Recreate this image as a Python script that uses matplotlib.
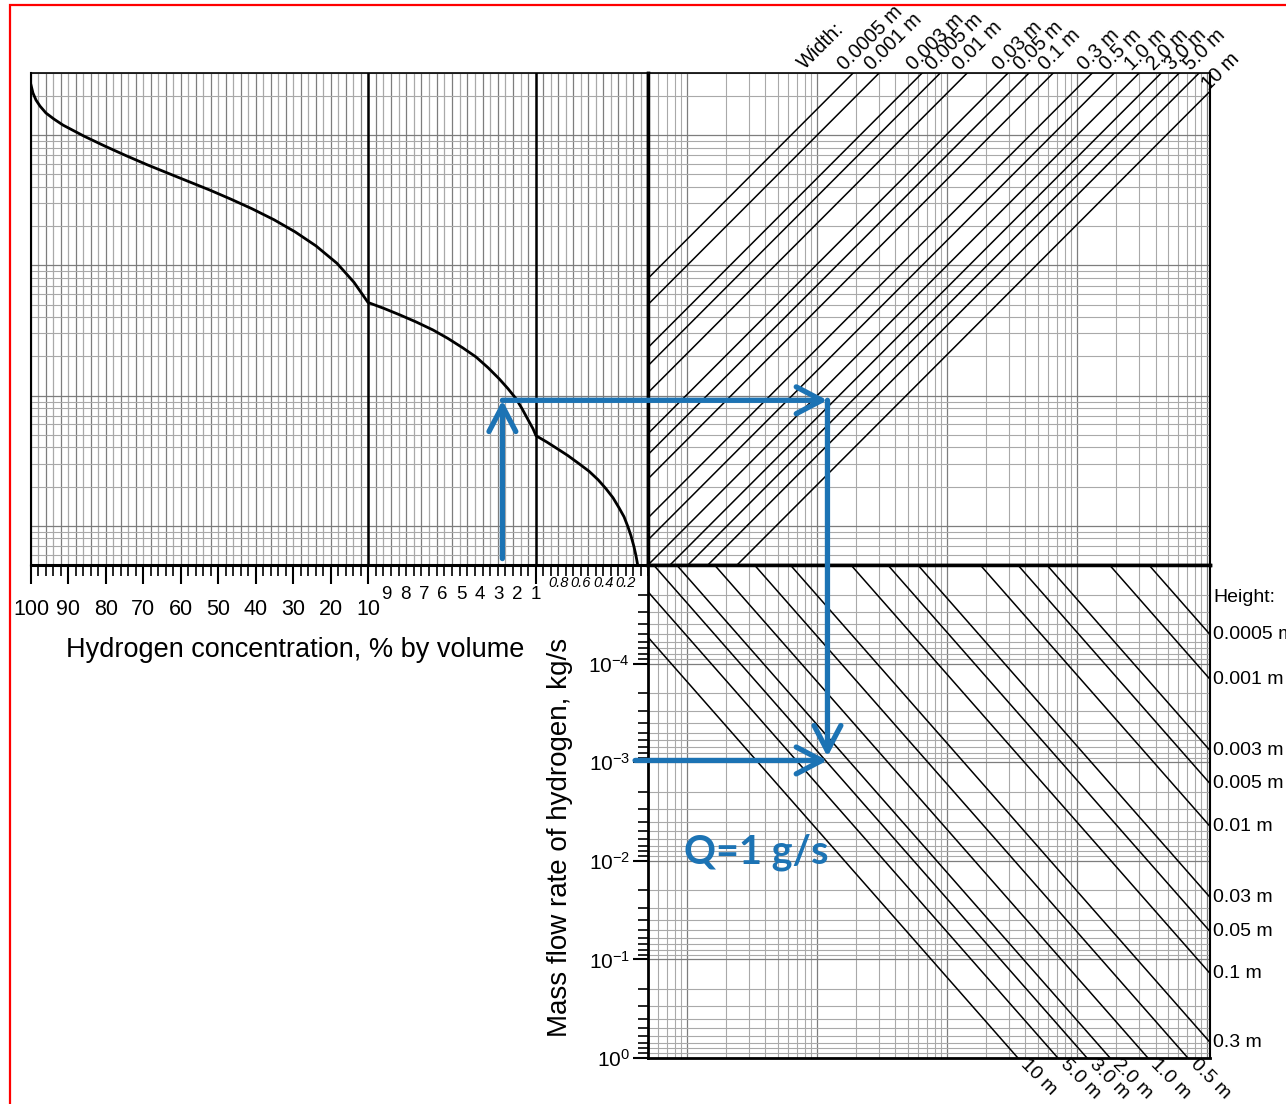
import numpy as np
import matplotlib
matplotlib.use('Agg')
import matplotlib.pyplot as plt
from matplotlib.patches import Rectangle, ConnectionPatch
from matplotlib.transforms import blended_transform_factory
from matplotlib.ticker import LogLocator, NullFormatter, FixedLocator, FixedFormatter

plt.rcParams['font.family'] = ['Liberation Sans', 'DejaVu Sans']
plt.rcParams['mathtext.fontset'] = 'custom'
plt.rcParams['mathtext.rm'] = 'Liberation Sans'
plt.rcParams['mathtext.it'] = 'Liberation Sans:italic'
plt.rcParams['mathtext.bf'] = 'Liberation Sans:bold'

# ---------------- data ----------------
conc = [100, 99.47, 98.66, 97.60, 95.99, 93.86, 91.45, 85.84, 80.24, 74.63, 69.02,
        63.41, 57.80, 52.19, 46.58, 40.97, 35.10, 29.49, 23.88, 18.27, 13.73, 10.0,
        9.143, 8.286, 7.429, 6.519, 5.715, 4.912, 4.215, 3.573, 2.983, 2.501, 2.073,
        1.749, 1.430, 1.162, 1.0,
        0.902, 0.804, 0.714, 0.616, 0.527, 0.446, 0.375, 0.3125, 0.259, 0.214,
        0.179, 0.152, 0.125, 0.107, 0.094]
curve_y = [242.4, 210.4, 185.9, 167.1, 147.7, 132.8, 119.4, 98.2, 82.3, 69.6, 59.3,
           51.0, 43.9, 37.8, 32.2, 27.2, 22.4, 18.1, 14.1, 10.36, 7.40, 5.19,
           4.67, 4.16, 3.68, 3.19, 2.745, 2.32, 1.98, 1.64, 1.35, 1.13, 0.948,
           0.794, 0.654, 0.557, 0.492,
           0.439, 0.388, 0.3455, 0.2998, 0.2626, 0.2259, 0.1926, 0.1642, 0.1376,
           0.1173, 0.0982, 0.0838, 0.0690, 0.0588, 0.0510]

big_labels = [100, 90, 80, 70, 60, 50, 40, 30, 20, 10]
mid_labels = [9, 8, 7, 6, 5, 4, 3, 2, 1]
small_labels = [0.8, 0.6, 0.4, 0.2]

width_labels = ['0.0005 m', '0.001 m', '0.003 m', '0.005 m', '0.01 m', '0.03 m',
                '0.05 m', '0.1 m', '0.3 m', '0.5 m', '1.0 m', '2.0 m', '3.0 m',
                '5.0 m', '10 m']
width_x_at_100 = [6.3, 10, 21.4, 29.5, 47.5, 98, 142, 218, 435, 642, 1000,
                  1476, 2031, 2887, 4840]
width_slope = 1.0

height_labels = ['0.0005 m', '0.001 m', '0.003 m', '0.005 m', '0.01 m', '0.03 m',
                 '0.05 m', '0.1 m', '0.3 m', '0.5 m', '1.0 m', '2.0 m', '3.0 m',
                 '5.0 m', '10 m']
height_x_at_1e3 = [76700, 38200, 12600, 7530, 3870, 1282, 753, 392, 134, 71,
                   35, 17.9, 11.9, 7.1, 3.5]
height_slope = 1.5

q_ticks = [1e-4, 1e-3, 1e-2, 1e-1, 1]
q_tick_labels = ['$10^{-4}$', '$10^{-3}$', '$10^{-2}$', '$10^{-1}$', '$10^{0}$']

example_conc = 2.8
example_upper = 0.92
example_x = 12.0
example_q = 1e-3
example_text = 'Q=1 g/s'

# ---------------- layout ----------------
W, H = 1286, 1104
fig = plt.figure(figsize=(W / 100, H / 100), dpi=100)

def rect(x0, y0, x1, y1):
    return [x0 / W, 1 - y1 / H, (x1 - x0) / W, (y1 - y0) / H]

ax_ul = fig.add_axes(rect(31, 73, 648, 565))
ax_ur = fig.add_axes(rect(648, 73, 1210, 565))
ax_lr = fig.add_axes(rect(648, 565, 1210, 1058))

BLUE = '#1c73b4'
GMAJ = '#7d7d7d'
GMIN = '#a9a9a9'

# piecewise-linear concentration scale
c_breaks = [0, 1, 10, 100]
u_breaks = [0, 112, 280, 617]

def fwd(c):
    return np.interp(c, c_breaks, u_breaks)

def inv(u):
    return np.interp(u, u_breaks, c_breaks)

UP_LIM = (0.05, 300)
X_LIM = (0.5, 10500)
Q_LIM = (1, 1e-5)

# ---------------- upper-left ----------------
ax_ul.set_xscale('function', functions=(fwd, inv))
ax_ul.set_yscale('log')
ax_ul.set_xlim(100, 0)
ax_ul.set_ylim(*UP_LIM)

u_grid = np.concatenate([np.linspace(617, 280, 46), np.linspace(280, 112, 23)[1:],
                         np.linspace(112, 0, 16)[1:]])
c_grid = inv(u_grid)
for i, cg in enumerate(c_grid):
    ax_ul.axvline(cg, color=GMAJ if i % 2 == 0 else GMIN, lw=0.9, zorder=1)
ax_ul.yaxis.set_major_locator(LogLocator(base=10, numticks=20))
ax_ul.yaxis.set_minor_locator(LogLocator(base=10, subs=np.arange(2, 10), numticks=20))
ax_ul.grid(True, axis='y', which='major', color=GMAJ, lw=0.9, zorder=1)
ax_ul.grid(True, axis='y', which='minor', color=GMIN, lw=0.8, zorder=1)
ax_ul.tick_params(axis='y', which='both', left=False, labelleft=False)
ax_ul.xaxis.set_major_locator(FixedLocator(big_labels + [1]))
ax_ul.xaxis.set_minor_locator(FixedLocator(list(c_grid)))
ax_ul.xaxis.set_major_formatter(NullFormatter())
ax_ul.xaxis.set_minor_formatter(NullFormatter())
ax_ul.tick_params(axis='x', which='major', direction='out', length=14, width=1.5, color='k')
ax_ul.tick_params(axis='x', which='minor', direction='out', length=8, width=1.2, color='k')
ax_ul.axvline(10, color='k', lw=1.8, zorder=3)
ax_ul.axvline(1, color='k', lw=1.8, zorder=3)
ax_ul.plot(conc, curve_y, color='k', lw=2.0, zorder=4, solid_joinstyle='round')

for sp, lw in zip(['top', 'left', 'bottom', 'right'], [1.2, 1.5, 2.2, 2.5]):
    ax_ul.spines[sp].set_linewidth(lw)
    ax_ul.spines[sp].set_zorder(6)

for v in big_labels:
    ax_ul.annotate(str(v), xy=(v, 0), xycoords=('data', 'axes fraction'),
                   xytext=(0, -31.7), textcoords='offset points',
                   ha='center', va='center', fontsize=15.5)
for v in mid_labels:
    ax_ul.annotate(str(v), xy=(v, 0), xycoords=('data', 'axes fraction'),
                   xytext=(0, -20.9), textcoords='offset points',
                   ha='center', va='center', fontsize=13.5)
for v in small_labels:
    ax_ul.annotate(str(v), xy=(v, 0), xycoords=('data', 'axes fraction'),
                   xytext=(0, -13), textcoords='offset points',
                   ha='center', va='center', fontsize=10.5, style='italic')

# ---------------- right panels common ----------------
for ax in (ax_ur, ax_lr):
    ax.set_xscale('log')
    ax.set_yscale('log')
    ax.set_xlim(*X_LIM)
    ax.xaxis.set_major_locator(LogLocator(base=10, numticks=20))
    ax.xaxis.set_minor_locator(LogLocator(base=10, subs=np.arange(2, 10), numticks=20))
    ax.yaxis.set_major_locator(LogLocator(base=10, numticks=20))
    ax.yaxis.set_minor_locator(LogLocator(base=10, subs=np.arange(2, 10), numticks=20))
    ax.grid(True, which='major', color=GMAJ, lw=0.9, zorder=1)
    ax.grid(True, which='minor', color=GMIN, lw=0.8, zorder=1)
    ax.tick_params(axis='x', which='both', bottom=False, top=False,
                   labelbottom=False)
    ax.set_axisbelow(True)

ax_ur.set_ylim(*UP_LIM)
ax_ur.tick_params(axis='y', which='both', left=False, labelleft=False)
for sp, lw in zip(['top', 'left', 'bottom', 'right'], [1.2, 2.5, 2.5, 1.5]):
    ax_ur.spines[sp].set_linewidth(lw)
    ax_ur.spines[sp].set_zorder(6)

ax_lr.set_ylim(*Q_LIM)
ax_lr.yaxis.set_major_locator(FixedLocator(q_ticks))
ax_lr.yaxis.set_major_formatter(FixedFormatter(q_tick_labels))
ax_lr.yaxis.set_minor_formatter(NullFormatter())
ax_lr.tick_params(axis='y', which='major', direction='out', length=11, width=1.5,
                  pad=2, labelsize=15)
ax_lr.tick_params(axis='y', which='minor', direction='out', length=7.5, width=1.2)
for sp, lw in zip(['top', 'left', 'bottom', 'right'], [2.5, 2.0, 2.0, 1.5]):
    ax_lr.spines[sp].set_linewidth(lw)
    ax_lr.spines[sp].set_zorder(6)

xs = np.array(X_LIM)

# width lines (upper-right)
for lab, x100 in zip(width_labels, width_x_at_100):
    ys = 100 * (xs / x100) ** width_slope
    ax_ur.plot(xs, ys, color='k', lw=1.1, zorder=3)
    x_top = x100 * (UP_LIM[1] / 100) ** (1 / width_slope)
    if x_top <= X_LIM[1]:
        pt = (x_top, UP_LIM[1])
        off = (-3.5, -0.5)
    else:
        pt = (X_LIM[1], 100 * (X_LIM[1] / x100) ** width_slope)
        off = (1.0, -1.5)
    ax_ur.annotate(lab, xy=pt, xycoords='data', xytext=off,
                   textcoords='offset points', rotation=45, rotation_mode='anchor',
                   ha='left', va='bottom', fontsize=14.3, annotation_clip=False)
ax_ur.text(0.285, 1.0, 'Width:', transform=ax_ur.transAxes, rotation=45,
           rotation_mode='anchor', ha='left', va='bottom', fontsize=14.3)

# height lines (lower-right)
for lab, xh in zip(height_labels, height_x_at_1e3):
    qs = 1e-3 * (xs / xh) ** height_slope
    ax_lr.plot(xs, qs, color='k', lw=1.1, zorder=3)
    q_right = 1e-3 * (X_LIM[1] / xh) ** height_slope
    if q_right <= Q_LIM[0]:
        ax_lr.annotate(lab, xy=(X_LIM[1], q_right), xycoords='data', xytext=(2.5, 0),
                       textcoords='offset points', ha='left', va='center',
                       fontsize=14, annotation_clip=False)
    else:
        xb = xh * (Q_LIM[0] / 1e-3) ** (1 / height_slope)
        ax_lr.annotate(lab, xy=(xb, Q_LIM[0]), xycoords='data', xytext=(4, -3),
                       textcoords='offset points', rotation=-45, rotation_mode='anchor',
                       ha='left', va='center', fontsize=14, annotation_clip=False)

fig.text(1213 / W, 1 - 598 / H, 'Height:', ha='left', va='center', fontsize=14)

# axis titles
fig.text(295 / W, 1 - 650 / H, 'Hydrogen concentration, % by volume',
         ha='center', va='center', fontsize=19.5)
fig.text(560 / W, 1 - 837 / H, 'Mass flow rate of hydrogen, kg/s', rotation=90,
         ha='center', va='center', fontsize=20)

# example arrows
astyle = '->,head_length=0.8,head_width=0.42'
akw = dict(arrowstyle=astyle, color=BLUE, lw=3.8, mutation_scale=23,
           shrinkA=0, shrinkB=0, zorder=20, clip_on=False)
y_start = 0.056
fig.add_artist(ConnectionPatch(xyA=(example_conc, y_start), coordsA='data', axesA=ax_ul,
                               xyB=(example_conc, example_upper), coordsB='data', axesB=ax_ul,
                               **akw))
fig.add_artist(ConnectionPatch(xyA=(example_conc, example_upper), coordsA='data', axesA=ax_ul,
                               xyB=(example_x, example_upper), coordsB='data', axesB=ax_ur,
                               **akw))
fig.add_artist(ConnectionPatch(xyA=(example_x, example_upper), coordsA='data', axesA=ax_ur,
                               xyB=(example_x, example_q * 0.88), coordsB='data', axesB=ax_lr,
                               **akw))
blend = blended_transform_factory(ax_lr.transAxes, ax_lr.transData)
fig.add_artist(ConnectionPatch(xyA=(-0.023, example_q * 0.96), coordsA=blend,
                               xyB=(example_x, example_q * 0.96), coordsB='data', axesB=ax_lr,
                               **akw))
ax_lr.text(0.95, 8.1e-3, example_text, color=BLUE, fontsize=28.5, fontweight='bold',
           family=['Lato', 'DejaVu Sans'], ha='left', va='center', zorder=15)

# red frame
fig.add_artist(Rectangle((10 / W, -0.05), 1.2, 1 - 5 / H + 0.05, transform=fig.transFigure,
                         fill=False, ec='#ff0000', lw=1.6, clip_on=False))

fig.savefig('out.png', dpi=100)
